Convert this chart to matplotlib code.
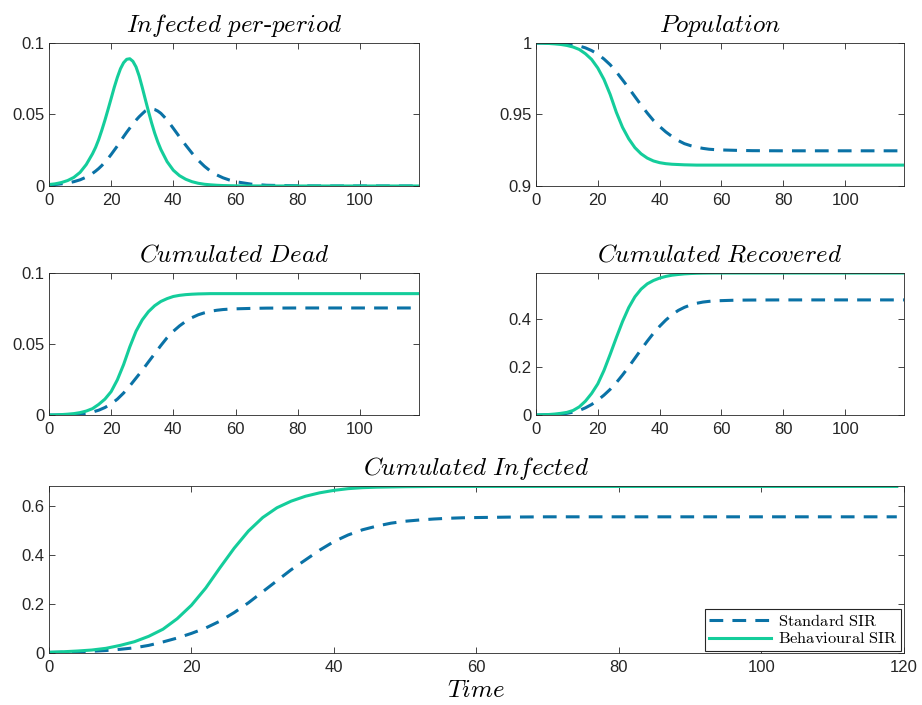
import numpy as np
import matplotlib
matplotlib.use('Agg')
import matplotlib.pyplot as plt
from matplotlib.ticker import FormatStrFormatter

plt.rcParams['mathtext.fontset'] = 'cm'
plt.rcParams['font.family'] = ['Liberation Sans', 'DejaVu Sans']

# time grid (periods)
t = [0, 2, 4, 6, 8, 10, 12, 14, 16, 18, 20, 22, 24, 26, 28, 30, 32, 34, 36, 38,
     40, 42, 44, 46, 48, 50, 52, 54, 56, 58, 60, 65, 70, 80, 90, 100, 110, 119]

# finer grid for the infected per-period panel (sharp peak)
t_inf = [0, 2, 4, 6, 8, 10, 12, 14, 15, 16, 17, 18, 19, 20, 21, 22, 23, 24, 25,
         26, 27, 28, 29, 30, 31, 32, 33, 34, 35, 36, 38, 40, 42, 44, 46, 48, 50,
         52, 54, 56, 58, 60, 65, 70, 80, 90, 100, 110, 119]

# Infected per-period
inf_std = [.0007, .0010, .0015, .0021, .0030, .0043, .0062, .0088, .0104, .0122,
           .0143, .0167, .0192, .0220, .0250, .0280, .0312, .0345, .0376, .0405,
           .0434, .0460, .0484, .0505, .0525, .0537, .0540, .0535, .0524, .0508,
           .0462, .0403, .0343, .0285, .0230, .0180, .0138, .0103, .0077, .0057,
           .0042, .0030, .0013, .0005, .0001, 0, 0, 0, 0]
inf_beh = [.0010, .0015, .0024, .0038, .0060, .0095, .0150, .0225, .0270, .0325,
           .0390, .0460, .0535, .0612, .0690, .0760, .0820, .0862, .0886, .0890,
           .0872, .0833, .0770, .0690, .0605, .0522, .0442, .0370, .0308, .0255,
           .0170, .0110, .0072, .0047, .0030, .0019, .0012, .0008, .0005, .0003,
           .0002, .0001, .00005, 0, 0, 0, 0, 0, 0]

# Population
pop_std = [1.0, 1.0, .9999, .9998, .9996, .9993, .9988, .9979, .9966, .9947,
           .9922, .9888, .9848, .9798, .9742, .9685, .9625, .9566, .9510, .9458,
           .9416, .9378, .9346, .9318, .9296, .9282, .9271, .9263, .9257, .9254,
           .9252, .9249, .9247, .9246, .9246, .9246, .9246, .9246]
pop_beh = [1.0, .9999, .9997, .9994, .9990, .9983, .9972, .9955, .9925, .9885,
           .9825, .9745, .9640, .9515, .9410, .9330, .9268, .9225, .9195, .9175,
           .9163, .9156, .9152, .9150, .9148, .9147, .9146, .9146, .9146, .9146,
           .9146, .9146, .9146, .9146, .9146, .9146, .9146, .9146]

# Cumulated dead
dead_std = [0, 0, .0001, .0002, .0004, .0007, .0012, .0021, .0034, .0053,
            .0078, .0112, .0155, .0205, .0260, .0315, .0374, .0432, .0490, .0545,
            .0590, .0628, .0660, .0686, .0706, .0720, .0731, .0738, .0743, .0746,
            .0748, .0751, .0753, .0754, .0754, .0754, .0754, .0754]
dead_beh = [0, .0001, .0003, .0006, .0010, .0017, .0028, .0045, .0075, .0112,
            .0165, .0248, .0355, .0480, .0590, .0670, .0728, .0770, .0800, .0820,
            .0835, .0843, .0848, .0851, .0853, .0854, .0855, .0855, .0855, .0855,
            .0855, .0855, .0855, .0855, .0855, .0855, .0855, .0855]

# Cumulated recovered
rec_std = [0, .0005, .001, .002, .004, .007, .012, .019, .030, .044,
           .062, .083, .107, .135, .167, .201, .237, .273, .308, .341,
           .370, .396, .418, .436, .449, .459, .466, .471, .474, .476,
           .477, .479, .4795, .480, .480, .480, .480, .480]
rec_beh = [0, .001, .002, .004, .007, .011, .019, .034, .058, .090,
           .130, .186, .253, .323, .390, .448, .493, .525, .547, .561,
           .571, .578, .583, .586, .5885, .590, .591, .5915, .5918, .592,
           .592, .592, .592, .592, .592, .592, .592, .592]

# Cumulated infected
cum_std = [.002, .003, .005, .007, .010, .015, .021, .031, .045, .061,
           .080, .102, .130, .165, .205, .250, .295, .340, .380, .420,
           .455, .482, .503, .518, .530, .538, .543, .547, .550, .552,
           .553, .555, .556, .556, .556, .556, .556, .556]
cum_beh = [.003, .005, .008, .012, .019, .031, .046, .068, .097, .140,
           .195, .265, .348, .428, .498, .553, .593, .620, .640, .654,
           .664, .671, .675, .677, .678, .679, .6795, .680, .680, .680,
           .680, .680, .680, .680, .680, .680, .680, .680]

c_std = '#0a72a6'
c_beh = '#14cd9b'

fig = plt.figure(figsize=(9.22, 7.05), dpi=100)
ax1 = fig.add_axes([0.0531, 0.7362, 0.4013, 0.2028])
ax2 = fig.add_axes([0.5813, 0.7362, 0.3991, 0.2028])
ax3 = fig.add_axes([0.0531, 0.4113, 0.4013, 0.2014])
ax4 = fig.add_axes([0.5813, 0.4113, 0.3991, 0.2014])
ax5 = fig.add_axes([0.0531, 0.0738, 0.9273, 0.2369])

panels = [
    (ax1, t_inf, inf_std, inf_beh, r'$Infected\ per\text{-}period$', (0, 0.1), [0, 0.05, 0.1]),
    (ax2, t, pop_std, pop_beh, r'$Population$', (0.9, 1.0), [0.9, 0.95, 1.0]),
    (ax3, t, dead_std, dead_beh, r'$Cumulated\ Dead$', (0, 0.1), [0, 0.05, 0.1]),
    (ax4, t, rec_std, rec_beh, r'$Cumulated\ Recovered$', (0, 0.592), [0, 0.2, 0.4]),
    (ax5, t, cum_std, cum_beh, r'$Cumulated\ Infected$', (0, 0.682), [0, 0.2, 0.4, 0.6]),
]

for ax, tt, ys, yb, title, ylim, yticks in panels:
    ax.plot(tt, ys, color=c_std, lw=2.2, ls=(0, (4.5, 3)), label=r'$\mathrm{Standard\ SIR}$')
    ax.plot(tt, yb, color=c_beh, lw=2.2, label=r'$\mathrm{Behavioural\ SIR}$')
    ax.set_title(title, fontsize=18, pad=8)
    ax.set_ylim(*ylim)
    ax.set_yticks(yticks)
    ax.yaxis.set_major_formatter(FormatStrFormatter('%g'))
    ax.tick_params(direction='in', top=True, right=True, labelsize=12,
                   colors='#262626', length=4, width=0.6)
    ax.tick_params(axis='x', pad=5)
    ax.tick_params(axis='y', pad=3)
    for sp in ax.spines.values():
        sp.set_color('#262626')
        sp.set_linewidth(0.6)

for ax in [ax1, ax2, ax3, ax4]:
    ax.set_xlim(0, 119)
    ax.set_xticks([0, 20, 40, 60, 80, 100])

ax5.set_xlim(0, 120)
ax5.set_xticks([0, 20, 40, 60, 80, 100, 120])
ax5.set_xlabel(r'$Time$', fontsize=18, labelpad=2)
leg = ax5.legend(loc='lower right', fontsize=11.8, handlelength=3.8, fancybox=False,
                 framealpha=1, edgecolor='#262626', borderpad=0.25, labelspacing=0.15,
                 handletextpad=0.4, borderaxespad=0.15)
leg.get_frame().set_linewidth(0.8)

fig.savefig('out.png', dpi=100)
